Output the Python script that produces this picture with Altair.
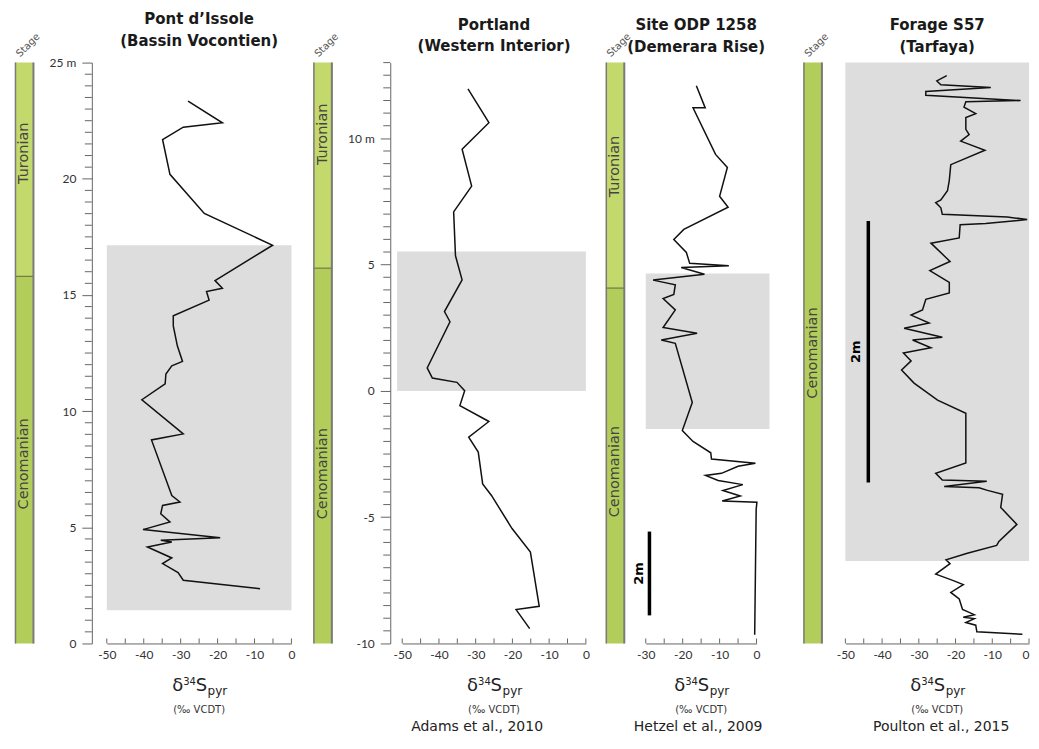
import altair as alt
import pandas as pd

FONT = "Lato"
TFONT = "DejaVu Sans"
PLOT_H = 582
AXIS_COL = "#666666"
LABEL_COL = "#333333"
GRAY = "#dddddd"
TUR_COL = "#c4d96c"
CEN_COL = "#b3cd5b"

# ---------------- data ----------------
# Panel 1: Pont d'Issole (Bassin Vocontien)
p1_d34s = [-28.0, -18.7, -29.3, -34.9, -32.9, -23.6, -5.1, -20.7, -18.7, -23.0, -22.3,
           -32.0, -32.0, -30.9, -29.5, -32.4, -34.0, -34.2, -40.5, -29.3, -37.9, -32.4,
           -30.2, -34.9, -35.4, -32.9, -40.2, -19.3, -35.4, -32.4, -39.0, -32.4, -34.9,
           -30.7, -29.3, -8.5]
p1_depth = [23.34, 22.41, 22.22, 21.69, 20.19, 18.51, 17.14, 15.62, 15.29, 15.15, 14.78,
            14.10, 13.67, 12.81, 12.14, 11.95, 11.60, 11.17, 10.49, 9.02, 8.76, 6.37,
            6.09, 5.94, 5.58, 5.23, 4.90, 4.55, 4.44, 4.37, 4.15, 3.68, 3.44,
            3.05, 2.72, 2.36]
p1_gray = [-50, 0, 1.43, 17.14]
p1_stages = ["Turonian", "Cenomanian"]
p1_stage_top = [25, 15.8]
p1_stage_base = [15.8, 0]
p1_stage_label_depth = [21.1, 7.73]

# Panel 2: Portland (Western Interior)
p2_d34s = [-32.1, -26.4, -33.7, -31.1, -36.0, -35.5, -33.7, -38.5, -37.0, -43.2, -41.8,
           -35.1, -33.0, -34.3, -26.4, -31.9, -29.3, -28.1, -25.7, -20.1, -15.1, -12.7,
           -19.0, -15.3]
p2_depth = [11.96, 10.62, 9.57, 8.11, 7.09, 5.35, 4.40, 3.14, 2.74, 0.91, 0.51,
            0.34, 0.01, -0.58, -1.21, -1.83, -2.42, -3.68, -4.14, -5.45, -6.38, -8.53,
            -8.66, -9.41]
p2_gray = [-51.4, 0, 0, 5.52]
p2_stages = ["Turonian", "Cenomanian"]
p2_stage_top = [13, 4.86]
p2_stage_base = [4.86, -10]
p2_stage_label_depth = [10.16, -3.28]

# Panel 3: Site ODP 1258 (Demerara Rise)
p3_d34s = [-16.3, -13.9, -17.2, -11.1, -7.9, -10.0, -7.7, -19.7, -22.4, -19.0, -18.1,
           -7.5, -20.4, -14.1, -28.0, -22.0, -22.4, -25.3, -22.0, -25.3, -16.1, -25.8,
           -22.0, -17.4, -20.1, -17.2, -12.4, -12.2, -0.3, -5.0, -9.5, -13.8, -10.4,
           -3.7, -9.1, -4.4, -9.3, 0.1, -0.1, -0.5]
p3_depth = [13.31, 12.78, 12.78, 11.67, 11.36, 10.67, 10.41, 9.88, 9.64, 9.33, 9.07,
            9.01, 8.97, 8.81, 8.67, 8.56, 8.33, 8.23, 7.96, 7.54, 7.40, 7.24,
            7.16, 5.75, 5.08, 4.82, 4.55, 4.40, 4.30, 4.23, 4.06, 4.01, 3.89,
            3.79, 3.65, 3.52, 3.40, 3.37, 3.20, 0.21]
p3_gray = [-30, 3.5, 5.12, 8.83]
p3_stages = ["Turonian", "Cenomanian"]
p3_stage_top = [13.86, 8.48]
p3_stage_base = [8.48, 0]
p3_stage_label_depth = [11.38, 4.1]
p3_scalebar_x = -29.0
p3_scalebar_depth = [0.67, 2.67]
p3_scalelabel = [-31.7, 1.67]

# Panel 4: Forage S57 (Tarfaya)
p4_d34s = [-22.4, -25.1, -24.0, -10.4, -28.1, -28.1, -2.3, -17.2, -17.7, -14.5, -17.2,
           -17.2, -16.3, -18.6, -12.0, -21.3, -21.7, -22.2, -24.0, -25.4, -24.0, -23.6,
           -5.9, -0.5, -11.8, -18.75, -19.0, -26.7, -21.5, -27.0, -21.7, -21.7, -28.1,
           -29.0, -32.1, -27.2, -34.0, -23.6, -31.7, -26.7, -34.2, -32.1, -34.7, -31.3,
           -24.9, -17.2, -17.2, -25.4, -23.6, -11.5, -23.1, -13.6, -11.3, -7.2, -7.7,
           -3.3, -8.2, -8.8, -16.8, -22.6, -21.5, -25.4, -20.6, -17.9, -21.3, -19.0,
           -18.1, -14.9, -17.9, -14.9, -17.2, -14.5, -14.2, -1.8]
p4_depth = [4.34, 4.30, 4.27, 4.25, 4.22, 4.19, 4.15, 4.14, 4.10, 4.05, 4.02,
            3.93, 3.89, 3.84, 3.77, 3.66, 3.54, 3.46, 3.39, 3.37, 3.33, 3.28,
            3.26, 3.24, 3.21, 3.20, 3.10, 3.06, 2.92, 2.85, 2.76, 2.68, 2.63,
            2.55, 2.51, 2.45, 2.41, 2.34, 2.32, 2.26, 2.22, 2.16, 2.09, 1.99,
            1.86, 1.76, 1.38, 1.30, 1.25, 1.24, 1.20, 1.19, 1.17, 1.14, 1.04,
            0.91, 0.78, 0.75, 0.69, 0.64, 0.61, 0.53, 0.48, 0.45, 0.39, 0.34,
            0.26, 0.22, 0.20, 0.19, 0.16, 0.14, 0.09, 0.07]
p4_gray = [-50, 0, 0.63, 4.44]
p4_stages = ["Cenomanian"]
p4_stage_top = [4.44]
p4_stage_base = [0]
p4_stage_label_depth = [2.22]
p4_scalebar_x = -43.75
p4_scalebar_depth = [1.23, 3.23]
p4_scalelabel = [-47.0, 2.23]

x_ticks_50 = [-50, -45, -40, -35, -30, -25, -20, -15, -10, -5, 0]
x_labels_50 = [-50, -40, -30, -20, -10, 0]
x_ticks_30 = [-30, -25, -20, -15, -10, -5, 0]
x_labels_30 = [-30, -20, -10, 0]


def spacer(w):
    return alt.Chart(pd.DataFrame({"a": [0]})).mark_point(opacity=0).encode(
        x=alt.value(0), y=alt.value(0)).properties(width=w, height=PLOT_H)


def stage_panel(names, tops, bases, label_depth, ydom, w=19):
    ys = alt.Scale(domain=ydom, nice=False, zero=False)
    df = pd.DataFrame({"stage": names, "top": tops, "base": bases, "ld": label_depth})
    rects = alt.Chart(df).mark_rect().encode(
        x=alt.value(0), x2=alt.value(w),
        y=alt.Y("top:Q", scale=ys, axis=None), y2="base:Q",
        color=alt.Color("stage:N", scale=alt.Scale(domain=["Turonian", "Cenomanian"],
                                                   range=[TUR_COL, CEN_COL]), legend=None))
    layers = [rects]
    if len(names) > 1:
        bdf = pd.DataFrame({"b": bases[:-1]})
        layers.append(alt.Chart(bdf).mark_rule(color="#6e7a45", strokeWidth=1.2).encode(
            y=alt.Y("b:Q", scale=ys, axis=None), x=alt.value(0), x2=alt.value(w)))
    one = pd.DataFrame({"a": [0]})
    layers.append(alt.Chart(one).mark_rule(color="#7a7a7a", strokeWidth=1.5).encode(
        x=alt.value(0.5), y=alt.value(0), y2=alt.value(PLOT_H)))
    layers.append(alt.Chart(one).mark_rule(color="#7a7a7a", strokeWidth=2).encode(
        x=alt.value(w - 0.5), y=alt.value(0), y2=alt.value(PLOT_H)))
    layers.append(alt.Chart(df).mark_text(angle=270, font=TFONT, fontSize=14.5, color="#444444").encode(
        y=alt.Y("ld:Q", scale=ys, axis=None), x=alt.value(w / 2), text="stage:N"))
    layers.append(alt.Chart(one).mark_text(text="Stage", angle=315, align="left", baseline="alphabetic",
                                           font=TFONT, fontSize=10, color="#555555").encode(
        x=alt.value(5), y=alt.value(-5)))
    return alt.layer(*layers).properties(width=w, height=PLOT_H)


def data_panel(vals, depth, gray, xdom, ydom, width, xticks, xlabels, title, title_dx=0,
               yaxis_values=None, yminor=None, ytop_label=None, yoffset=0,
               scalebar=None, ref=None, ref_dx=0, last_label_right=False):
    xs = alt.Scale(domain=xdom, nice=False, zero=False)
    ys = alt.Scale(domain=ydom, nice=False, zero=False)
    xaxis_kw = dict(values=xlabels, ticks=False, title=None, grid=False, labelPadding=6,
                    labelExpr="toString(datum.value)", domainColor=AXIS_COL, labelFlush=False)
    if last_label_right:
        xaxis_kw["labelAlign"] = {"condition": {"test": "datum.value == 0", "value": "right"},
                                  "value": "center"}
    xaxis = alt.Axis(**xaxis_kw)
    if yaxis_values is not None:
        yaxis = alt.Axis(values=yaxis_values, title=None, grid=False, offset=yoffset, tickSize=10,
                         labelPadding=6, domainColor=AXIS_COL, tickColor=AXIS_COL,
                         labelExpr=f"datum.value == {ytop_label} ? '{ytop_label} m' : toString(datum.value)")
    else:
        yaxis = None

    def X(f):
        return alt.X(f, type="quantitative", scale=xs, axis=xaxis)

    def Y(f):
        return alt.Y(f, type="quantitative", scale=ys, axis=yaxis)

    one = pd.DataFrame({"a": [0]})
    gdf = pd.DataFrame({"x1": [gray[0]], "x2": [gray[1]], "y1": [gray[2]], "y2": [gray[3]]})
    ldf = pd.DataFrame({"v": vals, "d": depth, "i": list(range(len(vals)))})
    layers = [
        alt.Chart(gdf).mark_rect(color=GRAY).encode(x=X("x1"), x2="x2", y=Y("y1"), y2="y2"),
        alt.Chart(ldf).mark_line(color="#111111", strokeWidth=1.5).encode(
            x=X("v"), y=Y("d"), order="i:Q"),
        alt.Chart(pd.DataFrame({"t": xticks})).mark_rule(color=AXIS_COL).encode(
            x=X("t"), y=alt.value(PLOT_H), y2=alt.value(PLOT_H - 5)),
    ]
    if yminor is not None:
        layers.append(alt.Chart(pd.DataFrame({"m": yminor})).mark_rule(color=AXIS_COL).encode(
            y=Y("m"), x=alt.value(-yoffset), x2=alt.value(-yoffset - 7)))
    if scalebar is not None:
        sx, sd, sl = scalebar
        sdf = pd.DataFrame({"x": [sx, sx], "d": sd, "i": [0, 1]})
        layers.append(alt.Chart(sdf).mark_line(color="black", strokeWidth=3.5).encode(
            x=X("x"), y=Y("d"), order="i:Q"))
        tdf = pd.DataFrame({"x": [sl[0]], "d": [sl[1]], "t": ["2m"]})
        layers.append(alt.Chart(tdf).mark_text(angle=270, font=TFONT, fontWeight="bold",
                                               fontSize=13, color="black").encode(
            x=X("x"), y=Y("d"), text="t:N"))
    c = width / 2
    layers += [
        alt.Chart(one).mark_text(text="δ", align="left", baseline="alphabetic", font=TFONT,
                                 fontSize=18, color="#222222").encode(
            x=alt.value(c - 27), y=alt.value(PLOT_H + 48)),
        alt.Chart(one).mark_text(text="34", align="left", baseline="alphabetic", font=TFONT,
                                 fontSize=10, color="#222222").encode(
            x=alt.value(c - 16), y=alt.value(PLOT_H + 42)),
        alt.Chart(one).mark_text(text="S", align="left", baseline="alphabetic", font=TFONT,
                                 fontSize=18, color="#222222").encode(
            x=alt.value(c - 3.5), y=alt.value(PLOT_H + 48)),
        alt.Chart(one).mark_text(text="pyr", align="left", baseline="alphabetic", font=TFONT,
                                 fontSize=12, color="#222222").encode(
            x=alt.value(c + 8.5), y=alt.value(PLOT_H + 52)),
        alt.Chart(one).mark_text(text="(‰ VCDT)", align="center", baseline="alphabetic", font=TFONT,
                                 fontSize=10, color="#333333").encode(
            x=alt.value(c), y=alt.value(PLOT_H + 70)),
    ]
    if ref is not None:
        layers.append(alt.Chart(one).mark_text(text=ref, align="center", baseline="alphabetic",
                                               font=TFONT, fontSize=14, color="#222222").encode(
            x=alt.value(c + ref_dx), y=alt.value(PLOT_H + 88)))
    return alt.layer(*layers).properties(
        width=width, height=PLOT_H,
        title=alt.TitleParams(text=title, font=TFONT, fontSize=15, fontWeight="bold", color="#1a1a1a",
                              anchor="middle", frame="group", offset=8, lineHeight=21.5, dx=title_dx))


S1 = stage_panel(p1_stages, p1_stage_top, p1_stage_base, p1_stage_label_depth, [0, 25])
P1 = data_panel(p1_d34s, p1_depth, p1_gray, [-50, 0], [0, 25], 185, x_ticks_50, x_labels_50,
                ["Pont d’Issole", "(Bassin Vocontien)"],
                yaxis_values=[0, 5, 10, 15, 20, 25],
                yminor=[v / 2 for v in range(0, 51) if v % 10 != 0],
                ytop_label=25, yoffset=15)
S2 = stage_panel(p2_stages, p2_stage_top, p2_stage_base, p2_stage_label_depth, [-10, 13])
P2 = data_panel(p2_d34s, p2_depth, p2_gray, [-50, 0], [-10, 13], 184, x_ticks_50, x_labels_50,
                ["Portland", "(Western Interior)"],
                yaxis_values=[-10, -5, 0, 5, 10],
                yminor=[v / 2 for v in range(-20, 27) if v % 10 != 0],
                ytop_label=10, yoffset=12, ref="Adams et al., 2010", ref_dx=-17)
S3 = stage_panel(p3_stages, p3_stage_top, p3_stage_base, p3_stage_label_depth, [0, 13.86])
P3 = data_panel(p3_d34s, p3_depth, p3_gray, [-30, 0], [0, 13.86], 111, x_ticks_30, x_labels_30,
                ["Site ODP 1258", "(Demerara Rise)"], title_dx=-5,
                scalebar=(p3_scalebar_x, p3_scalebar_depth, p3_scalelabel),
                ref="Hetzel et al., 2009", ref_dx=-3)
S4 = stage_panel(p4_stages, p4_stage_top, p4_stage_base, p4_stage_label_depth, [0, 4.44])
P4 = data_panel(p4_d34s, p4_depth, p4_gray, [-50, 0], [0, 4.44], 184, x_ticks_50, x_labels_50,
                ["Forage S57", "(Tarfaya)"],
                scalebar=(p4_scalebar_x, p4_scalebar_depth, p4_scalelabel),
                ref="Poulton et al., 2015", ref_dx=4, last_label_right=True)

chart = alt.hconcat(
    S1, spacer(73), P1, spacer(22), S2, spacer(70), P2, spacer(20), S3, spacer(21), P3,
    spacer(47), S4, spacer(23), P4,
    spacing=0, bounds="flush",
).properties(
    padding={"left": 6, "top": 3, "right": 0, "bottom": 0}
).configure_view(strokeWidth=0).configure_axis(
    labelFont=FONT, labelFontSize=12, labelColor=LABEL_COL, domainColor=AXIS_COL,
    tickColor=AXIS_COL, grid=False
)

chart.save("out.html", embed_options={"renderer": "svg", "actions": False})
